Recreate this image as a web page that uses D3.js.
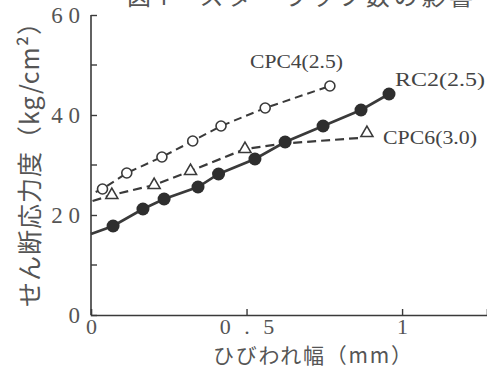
<!DOCTYPE html>
<html>
<head>
<meta charset="utf-8">
<script src="https://cdn.jsdelivr.net/npm/d3@7"></script>
<style>
  html, body { margin: 0; padding: 0; background: #fff; }
  svg { display: block; }
</style>
</head>
<body>
<div id="chart"></div>
<script>
// values
const xTicks = [0, 0.5, 1];
const xTickLabels = ['0', '0 . 5', '1'];
const yTicks = [0, 20, 40, 60];
const yMinorTicks = [10, 30, 50];

const rc2X = [0.071, 0.167, 0.235, 0.344, 0.41, 0.527, 0.624, 0.746, 0.868, 0.958];
const rc2Y = [17.8, 21.2, 23.2, 25.6, 28.2, 31.2, 34.6, 37.8, 41.0, 44.2];
const rc2LineX = [0, ...rc2X];
const rc2LineY = [16.2, ...rc2Y];

const cpc4X = [0.037, 0.115, 0.228, 0.327, 0.418, 0.56, 0.768];
const cpc4Y = [25.2, 28.4, 31.6, 34.8, 37.8, 41.4, 45.8];
const cpc4LineX = [0.015, ...cpc4X];
const cpc4LineY = [24.6, ...cpc4Y];

const cpc6X = [0.067, 0.203, 0.32, 0.495, 0.887];
const cpc6Y = [24.0, 26.0, 28.8, 33.2, 36.4];
const cpc6LineX = [0.005, 0.067, 0.203, 0.32, 0.495, 0.62, 0.86];
const cpc6LineY = [22.8, 24.0, 26.0, 28.8, 33.2, 34.3, 35.4];

const seriesLabels = ['CPC4(2.5)', 'RC2(2.5)', 'CPC6(3.0)'];
const title = '図4　スターラップ数の影響';
const xTitle = 'ひびわれ幅（mm）';
const yTitle = 'せん断応力度（kg/cm²）';

const width = 487, height = 369;
const ink = '#3a3a3a';
const jp = '"Noto Sans CJK JP", sans-serif';
const serif = '"Liberation Serif", serif';

const svg = d3.select('#chart').append('svg')
  .attr('width', width)
  .attr('height', height);

const x = d3.scaleLinear().domain([0, 1.273]).range([91, 487]);
const y = d3.scaleLinear().domain([0, 60]).range([315, 15]);

// partly cropped caption at the very top
svg.append('text')
  .attr('x', 127).attr('y', 5)
  .attr('textLength', 346)
  .attr('lengthAdjust', 'spacing')
  .style('font-family', jp)
  .style('font-size', '24px')
  .attr('fill', '#555')
  .text(title);

// axes
const xAxis = d3.axisBottom(x)
  .tickValues(xTicks)
  .tickSize(-6)
  .tickFormat((d, i) => xTickLabels[i]);
const xAxisG = svg.append('g')
  .attr('transform', `translate(0,${y(0)})`)
  .call(xAxis);
xAxisG.select('.domain').attr('stroke', ink).attr('stroke-width', 1.6);
xAxisG.selectAll('.tick line').attr('stroke', ink).attr('stroke-width', 1.4);
xAxisG.selectAll('.tick').filter(d => d === 0).select('line').remove();
xAxisG.selectAll('.tick text')
  .attr('y', 3)
  .attr('fill', '#555')
  .style('font-family', serif)
  .style('font-size', '22px');
xAxisG.selectAll('.tick').filter(d => d === 0.5).select('text')
  .attr('x', 2)
  .style('letter-spacing', '4px');

const yAxis = d3.axisLeft(y)
  .tickValues(yTicks)
  .tickSize(-6)
  .tickPadding(0)
  .tickFormat(d => String(d).split('').join(' '));
const yAxisG = svg.append('g')
  .attr('transform', `translate(${x(0)},0)`)
  .call(yAxis);
yAxisG.select('.domain').attr('stroke', ink).attr('stroke-width', 1.6)
  .attr('d', `M0,${y(0)}V${y(60)}`);
yAxisG.selectAll('.tick line').attr('stroke', ink).attr('stroke-width', 1.4);
yAxisG.selectAll('.tick text')
  .attr('x', -11)
  .attr('fill', '#555')
  .style('font-family', serif)
  .style('font-size', '23px');

yAxisG.selectAll('.minor')
  .data(yMinorTicks)
  .join('line')
  .attr('class', 'minor')
  .attr('x1', 0).attr('x2', 6)
  .attr('y1', d => y(d)).attr('y2', d => y(d))
  .attr('stroke', ink).attr('stroke-width', 1.4);

// axis titles
svg.append('text')
  .attr('x', 213).attr('y', 363)
  .attr('textLength', 199)
  .attr('lengthAdjust', 'spacing')
  .style('font-family', jp)
  .style('font-size', '21px')
  .attr('fill', '#555')
  .text(xTitle);

svg.append('text')
  .attr('transform', 'translate(39,307) rotate(-90)')
  .attr('textLength', 297)
  .attr('lengthAdjust', 'spacing')
  .style('font-family', jp)
  .style('font-size', '25px')
  .attr('fill', '#555')
  .text(yTitle);

// lines
const zip = (xs, ys) => xs.map((v, i) => [v, ys[i]]);
const line = d3.line().x(d => x(d[0])).y(d => y(d[1]));

svg.append('path')
  .datum(zip(cpc4LineX, cpc4LineY))
  .attr('d', line)
  .attr('fill', 'none')
  .attr('stroke', ink)
  .attr('stroke-width', 2)
  .attr('stroke-dasharray', '8,5');

svg.append('path')
  .datum(zip(cpc6LineX, cpc6LineY))
  .attr('d', line)
  .attr('fill', 'none')
  .attr('stroke', ink)
  .attr('stroke-width', 2.2)
  .attr('stroke-dasharray', '9,5');

svg.append('path')
  .datum(zip(rc2LineX, rc2LineY))
  .attr('d', line)
  .attr('fill', 'none')
  .attr('stroke', ink)
  .attr('stroke-width', 2.6);

// markers
svg.selectAll('.cpc4')
  .data(zip(cpc4X, cpc4Y))
  .join('circle')
  .attr('class', 'cpc4')
  .attr('cx', d => x(d[0])).attr('cy', d => y(d[1]))
  .attr('r', 5)
  .attr('fill', '#fff')
  .attr('stroke', ink)
  .attr('stroke-width', 1.6);

svg.selectAll('.cpc6')
  .data(zip(cpc6X, cpc6Y))
  .join('path')
  .attr('class', 'cpc6')
  .attr('transform', d => `translate(${x(d[0])},${y(d[1])})`)
  .attr('d', d3.symbol(d3.symbolTriangle, 62))
  .attr('fill', '#fff')
  .attr('stroke', ink)
  .attr('stroke-width', 1.6);

svg.selectAll('.rc2')
  .data(zip(rc2X, rc2Y))
  .join('circle')
  .attr('class', 'rc2')
  .attr('cx', d => x(d[0])).attr('cy', d => y(d[1]))
  .attr('r', 6.5)
  .attr('fill', '#2e2e2e');

// series labels
const labelPos = [[250, 68, 93], [395, 86, 90], [383, 144, 94]];
svg.selectAll('.slabel')
  .data(seriesLabels)
  .join('text')
  .attr('class', 'slabel')
  .attr('x', (d, i) => labelPos[i][0])
  .attr('y', (d, i) => labelPos[i][1])
  .attr('textLength', (d, i) => labelPos[i][2])
  .attr('lengthAdjust', 'spacingAndGlyphs')
  .style('font-family', serif)
  .style('font-size', '19px')
  .attr('fill', '#444')
  .text(d => d);
</script>
</body>
</html>
